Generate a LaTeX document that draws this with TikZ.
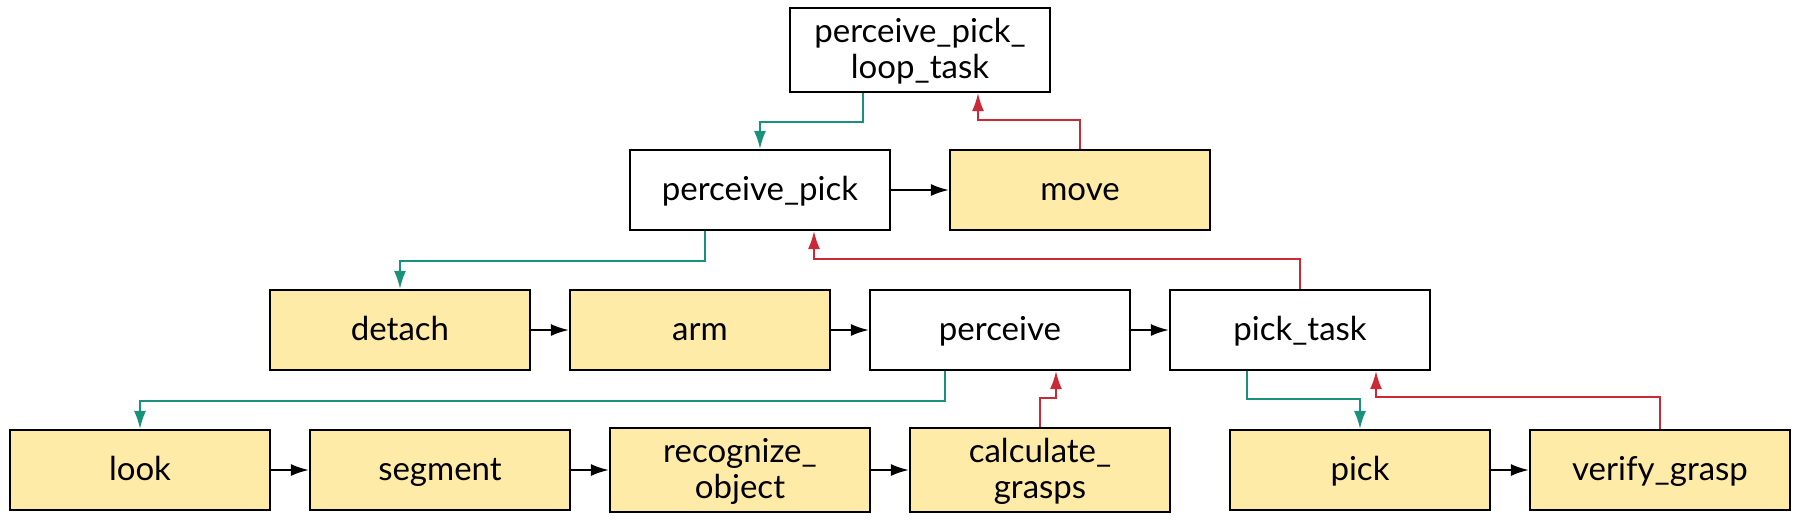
\documentclass[tikz,border=0pt]{standalone}
\usepackage{fontspec}
\setmainfont{Lato}
\usetikzlibrary{arrows.meta,calc}
\definecolor{boxyellow}{HTML}{FFEBA8}
\definecolor{linkteal}{HTML}{1A927B}
\definecolor{linkred}{HTML}{CC2936}
\tikzset{
  taskbox/.style={draw=black, line width=1.1pt, fill=white, minimum width=130pt, minimum height=40pt,
    inner sep=0pt, align=center, text height=13pt, text depth=3pt,
    font=\fontsize{16.5}{18}\selectfont},
  leafbox/.style={taskbox, fill=boxyellow},
  tallbox/.style={minimum height=42pt, text height=31pt, text depth=3pt},
  seqarrow/.style={draw=black, line width=1pt, -{Latex[length=9pt,width=6pt]}},
  downlink/.style={draw=linkteal, line width=0.9pt, -{Latex[length=9pt,width=6pt]}},
  uplink/.style={draw=linkred, line width=0.9pt, -{Latex[length=9pt,width=6pt]}}
}
\begin{document}
\begin{tikzpicture}[x=0.5pt,y=-0.5pt]
\useasboundingbox (0,0) rectangle (1800,520);
% row 1
\node[taskbox, tallbox] (top) at (920,50) {perceive\_pick\_\\loop\_task};
% row 2
\node[taskbox] (pp) at (760,190) {perceive\_pick};
\node[leafbox] (move) at (1080,190) {move};
% row 3
\node[leafbox] (detach) at (400,330) {detach};
\node[leafbox] (arm) at (700,330) {arm};
\node[taskbox] (per) at (1000,330) {perceive};
\node[taskbox] (pt) at (1300,330) {pick\_task};
% row 4
\node[leafbox] (look) at (140,470) {look};
\node[leafbox] (seg) at (440,470) {segment};
\node[leafbox, tallbox] (rec) at (740,470) {recognize\_\\object};
\node[leafbox, tallbox] (calc) at (1040,470) {calculate\_\\grasps};
\node[leafbox] (pick) at (1360,470) {pick};
\node[leafbox] (ver) at (1660,470) {verify\_grasp};
% sequence arrows
\draw[seqarrow] (pp.east) -- (move.west);
\draw[seqarrow] (detach.east) -- (arm.west);
\draw[seqarrow] (arm.east) -- (per.west);
\draw[seqarrow] (per.east) -- (pt.west);
\draw[seqarrow] (look.east) -- (seg.west);
\draw[seqarrow] (seg.east) -- (rec.west);
\draw[seqarrow] (rec.east) -- (calc.west);
\draw[seqarrow] (pick.east) -- (ver.west);
% down links
\draw[downlink] ($(top.south)+(-57,0)$) -- ++(0,29) -| (pp.north);
\draw[downlink] ($(pp.south)+(-55,0)$) -- ++(0,30) -| (detach.north);
\draw[downlink] ($(per.south)+(-55,0)$) -- ++(0,30) -| (look.north);
\draw[downlink] ($(pt.south)+(-53,0)$) -- ++(0,28) -| (pick.north);
% up links
\draw[uplink] (move.north) -- ++(0,-29) -| ($(top.south)+(58,0)$);
\draw[uplink] (pt.north) -- ++(0,-30) -| ($(pp.south)+(54,0)$);
\draw[uplink] (calc.north) -- ++(0,-29) -| ($(per.south)+(56,0)$);
\draw[uplink] (ver.north) -- ++(0,-32) -| ($(pt.south)+(76,0)$);
\end{tikzpicture}
\end{document}
